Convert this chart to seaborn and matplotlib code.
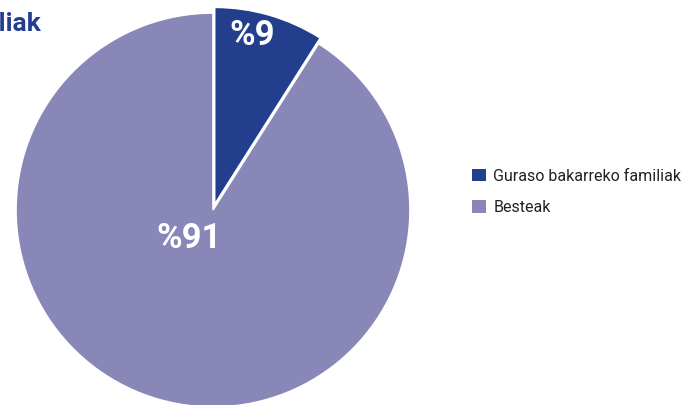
import matplotlib
matplotlib.use("Agg")
import matplotlib.pyplot as plt
import seaborn as sns
from matplotlib.patches import Patch

# Datuak
categories = ["Guraso bakarreko familiak", "Besteak"]
values = [9, 91]
labels = ["%9", "%91"]
colors = ["#243e8e", "#8887b8"]
title = "Guraso bakarreko familiak"

sns.set_theme(style="white")
plt.rcParams["font.family"] = ["Roboto", "DejaVu Sans"]

fig = plt.figure(figsize=(6.9, 4.05), dpi=100)
ax = fig.add_axes([16 / 690, -2 / 405, 394 / 690, 394 / 405])

wedges, _ = ax.pie(values, colors=colors, startangle=90, counterclock=False,
                   explode=[0.03, 0], radius=1,
                   wedgeprops=dict(edgecolor="white", linewidth=1.2))
ax.set_xlim(-1, 1)
ax.set_ylim(-1, 1)
ax.set_aspect("equal")
ax.axis("off")

# Etiketak
ax.text(0.2, 0.885, labels[0], color="white", fontsize=25, fontweight="bold",
        ha="center", va="center")
ax.text(-0.12, -0.145, labels[1], color="white", fontsize=25, fontweight="bold",
        ha="center", va="center")

# izenburua ezkerrean moztuta dago jatorrizkoan
fig.text(41 / 690, 1 - 24 / 405, title, color=colors[0], fontsize=19,
         fontweight="bold", ha="right", va="center")

handles = [Patch(facecolor=c, edgecolor="none") for c in colors]
fig.legend(handles, categories, loc="center left",
           bbox_to_anchor=(458 / 690, 1 - 192 / 405), frameon=False,
           fontsize=11.5, handlelength=0.85, handleheight=0.85,
           handletextpad=0.45, labelspacing=1.05, labelcolor="#222222")

fig.savefig("out.png", dpi=100)
